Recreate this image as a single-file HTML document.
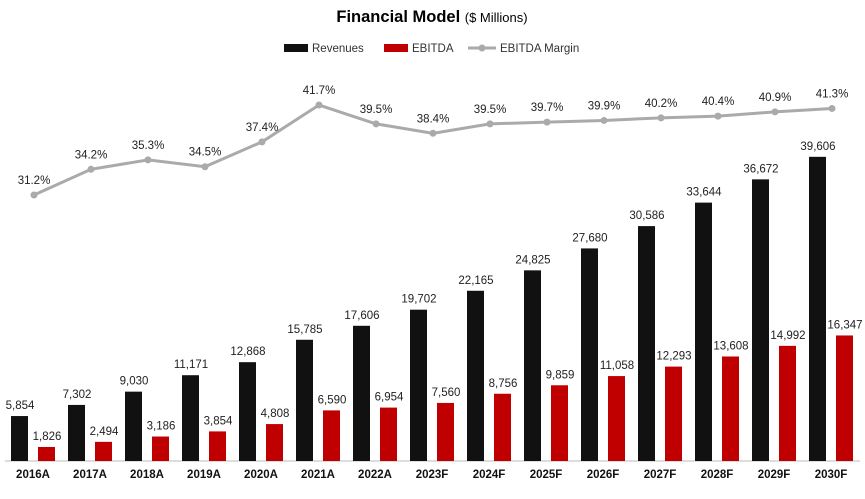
<!DOCTYPE html>
<html><head><meta charset="utf-8">
<style>
body{margin:0;background:#fff;font-family:"Liberation Sans",Calibri,sans-serif;}
svg text{font-family:"Liberation Sans",sans-serif;}
</style></head>
<body>
<svg id="chart" width="865" height="494" viewBox="0 0 865 494" xmlns="http://www.w3.org/2000/svg">
<text x="432" y="22" text-anchor="middle" font-size="16.5" font-weight="bold" fill="#000">Financial Model <tspan font-size="13" font-weight="normal">($ Millions)</tspan></text>
<g font-size="11.5" fill="#333">
<g><rect x="284" y="44" width="24" height="8" fill="#111"/><text x="312" y="52">Revenues</text></g>
<g><rect x="384" y="44" width="24" height="8" fill="#c00000"/><text x="412" y="52">EBITDA</text></g>
<g><line x1="468" y1="48" x2="496" y2="48" stroke="#aaa" stroke-width="3"/><circle cx="482" cy="48" r="3.5" fill="#aaa"/><text x="500" y="52">EBITDA Margin</text></g>
</g>
<line x1="5" y1="461" x2="860" y2="461" stroke="#bbb" stroke-width="1"/>
<g id="bars"></g><g id="line"></g><g id="labels"></g>
</svg>
<script>
const categories=["2016A","2017A","2018A","2019A","2020A","2021A","2022A","2023F","2024F","2025F","2026F","2027F","2028F","2029F","2030F"];
const revenues=[5854,7302,9030,11171,12868,15785,17606,19702,22165,24825,27680,30586,33644,36672,39606];
const ebitda=[1826,2494,3186,3854,4808,6590,6954,7560,8756,9859,11058,12293,13608,14992,16347];
const margins=[31.2,34.2,35.3,34.5,37.4,41.7,39.5,38.4,39.5,39.7,39.9,40.2,40.4,40.9,41.3];
const NS="http://www.w3.org/2000/svg";
const xC=i=>33+i*57;
const yV=v=>461-v*0.00768;
const yM=m=>195-(m-31.2)*8.57;
function mk(tag,attrs,parent){const e=document.createElementNS(NS,tag);for(const k in attrs)e.setAttribute(k,attrs[k]);parent.appendChild(e);return e;}
const gB=document.getElementById('bars'),gL=document.getElementById('line'),gT=document.getElementById('labels');
const fmt=v=>v.toLocaleString('en-US');
categories.forEach((c,i)=>{
 const x=xC(i);
 const r=mk('rect',{x:x-22,y:yV(revenues[i]),width:17,height:461-yV(revenues[i]),fill:'#111'},gB);
 
 
 const e=mk('rect',{x:x+5,y:yV(ebitda[i]),width:17,height:461-yV(ebitda[i]),fill:'#c00000'},gB);
 
 
 const t1=mk('text',{x:x-13,y:yV(revenues[i])-7,'text-anchor':'middle','font-size':'11.5',fill:'#222'},gT);t1.textContent=fmt(revenues[i]);
 
 
 const t2=mk('text',{x:x+14,y:yV(ebitda[i])-7,'text-anchor':'middle','font-size':'11.5',fill:'#222'},gT);t2.textContent=fmt(ebitda[i]);
 
 
 const tx=mk('text',{x:x,y:478,'text-anchor':'middle','font-size':'11.5','font-weight':'bold',fill:'#111'},gT);tx.textContent=c;
 
 
 const tm=mk('text',{x:x+1,y:yM(margins[i])-11,'text-anchor':'middle','font-size':'11.5',fill:'#222'},gT);tm.textContent=margins[i].toFixed(1)+'%';
 
 
});
const pts=margins.map((m,i)=>(xC(i)+1)+','+yM(m)).join(' ');
const pl=mk('polyline',{points:pts,fill:'none',stroke:'#aaa','stroke-width':'3'},gL);


margins.forEach((m,i)=>{
 const c=mk('circle',{cx:xC(i)+1,cy:yM(m),r:3.5,fill:'#aaa'},gL);
 
 
});
</script>
</body></html>
